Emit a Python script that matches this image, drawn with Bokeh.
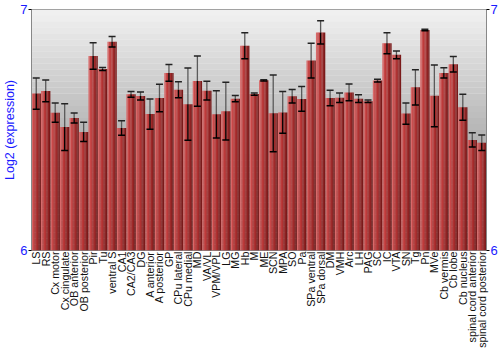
import math
from bokeh.plotting import figure
from bokeh.models import (ColumnDataSource, Range1d, LinearAxis, FixedTicker,
                          Whisker, TeeHead, BoxAnnotation)
from bokeh.transform import dodge
from bokeh.embed import file_html
from bokeh.resources import INLINE

regions = ["LS", "RS", "Cx motor", "Cx cingulate", "OB anterior", "OB posterior",
           "Pir", "Tu", "ventral S", "CA1", "CA2/CA3", "DG", "A anterior",
           "A posterior", "GP", "CPu lateral", "CPu medial", "MD", "VA/VL",
           "VPM/VPL", "LG", "MG", "Hb", "M", "ME", "SCN", "MPA", "SO", "Pa",
           "SPa ventral", "SPa dorsal", "DM", "VMH", "Arc", "LH", "PAG", "SC",
           "IC", "VTA", "SN", "Tg", "Pn", "MVe", "Cb vermis", "Cb lobe",
           "Cb nucleus", "spinal cord anterior", "spinal cord posterior"]

expression = [6.651, 6.662, 6.572, 6.512, 6.550, 6.492, 6.807, 6.753, 6.866,
              6.508, 6.648, 6.641, 6.566, 6.633, 6.737, 6.667, 6.607, 6.703,
              6.663, 6.565, 6.578, 6.630, 6.850, 6.649, 6.706, 6.569, 6.573,
              6.640, 6.629, 6.788, 6.905, 6.633, 6.634, 6.656, 6.630, 6.619,
              6.705, 6.860, 6.812, 6.568, 6.677, 6.915, 6.642, 6.737, 6.773,
              6.594, 6.459, 6.447]

error = [0.065, 0.045, 0.040, 0.097, 0.021, 0.040, 0.055, 0.006, 0.022,
         0.030, 0.012, 0.017, 0.063, 0.057, 0.035, 0.033, 0.150, 0.104,
         0.039, 0.098, 0.120, 0.013, 0.054, 0.005, 0.003, 0.159, 0.087,
         0.028, 0.051, 0.072, 0.048, 0.032, 0.020, 0.035, 0.016, 0.005,
         0.006, 0.044, 0.016, 0.044, 0.073, 0.003, 0.128, 0.021, 0.032,
         0.054, 0.030, 0.032]

y_ticks = [6, 7]

src = ColumnDataSource(dict(
    cat=regions,
    val=expression,
    lo=[v - e for v, e in zip(expression, error)],
    hi=[v + e for v, e in zip(expression, error)],
))

p = figure(x_range=regions, y_range=Range1d(6, 7), width=500, height=350,
           output_backend="svg", toolbar_location=None,
           min_border_left=0, min_border_right=0, min_border_top=9,
           min_border_bottom=0)
p.background_fill_color = "#f2f2f2"
p.border_fill_color = "white"
p.outline_line_color = "#888888"
p.grid.visible = False

# background vertical gradient (decoration)
nb = 40
for i in range(nb):
    t = (i + 0.5) / nb
    c = int(round(242 - t * 120))
    p.add_layout(BoxAnnotation(bottom=7 - (i + 1) / nb, top=7 - i / nb,
                               fill_color="#%02x%02x%02x" % (c, c, c),
                               fill_alpha=1.0, line_alpha=0, level="underlay"))

# bars drawn as horizontal gradient strips
strip_colors = ["#d86a6a", "#c84848", "#bd3a3a", "#b03232", "#a02a2a",
                "#8e2222", "#7a1a1a"]
n = len(strip_colors)
bw = 0.98
sw = bw / n
for k, col in enumerate(strip_colors):
    off = -bw / 2 + sw * (k + 0.5)
    p.vbar(x=dodge("cat", off, range=p.x_range), top="val", bottom=6,
           width=sw * 1.05, source=src, fill_color=col, line_color=None)

# error bars
p.add_layout(Whisker(source=src, base="cat", lower="val", upper="hi",
                     line_color="#5a5a5a", line_width=1.3, level="overlay",
                     upper_head=TeeHead(size=7, line_color="#222222", line_width=1.5),
                     lower_head=None))
p.add_layout(Whisker(source=src, base="cat", lower="lo", upper="val",
                     line_color="black", line_width=1.3, level="overlay",
                     lower_head=TeeHead(size=7, line_color="black", line_width=1.5),
                     upper_head=None))

# axes
p.add_layout(LinearAxis(), "right")
for ax in p.yaxis:
    ax.ticker = FixedTicker(ticks=y_ticks)
    ax.axis_line_color = "#888888"
    ax.major_tick_line_color = "black"
    ax.major_tick_out = 3
    ax.major_tick_in = 0
    ax.minor_tick_line_color = None
    ax.major_label_text_color = "#1a1aff"
    ax.major_label_text_font = "Liberation Sans"
    ax.major_label_text_font_size = "13px"
    ax.major_label_standoff = 1
p.yaxis[0].axis_label = "Log2 (expression)"
p.yaxis[0].axis_label_text_color = "#1a1aff"
p.yaxis[0].axis_label_text_font = "Liberation Sans"
p.yaxis[0].axis_label_text_font_size = "12.5px"
p.yaxis[0].axis_label_text_font_style = "normal"
p.yaxis[0].axis_label_standoff = 0

xa = p.xaxis[0]
xa.major_label_orientation = math.pi / 2
xa.major_label_text_font = "Liberation Sans"
xa.major_label_text_font_size = "10.7px"
xa.major_label_text_color = "#111111"
xa.major_label_standoff = 1
xa.major_tick_out = 0
xa.major_tick_in = 0
xa.major_tick_line_color = None
xa.axis_line_color = None

open("out.html", "w").write(file_html(p, INLINE))
